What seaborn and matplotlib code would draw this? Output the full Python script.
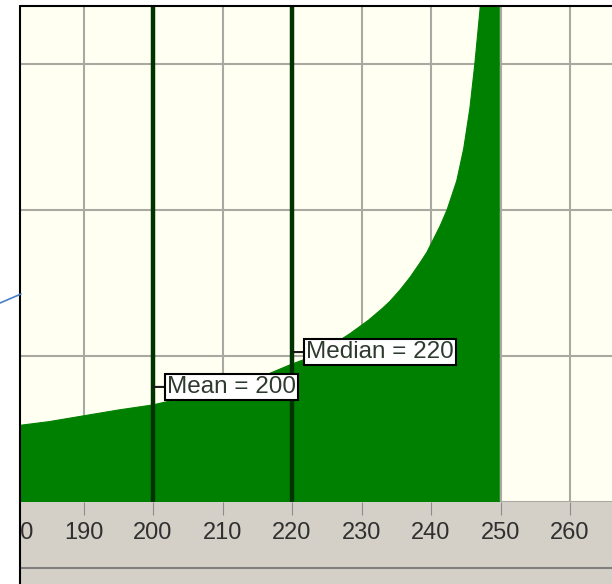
import matplotlib
matplotlib.use("Agg")
import matplotlib.pyplot as plt
import seaborn as sns
import pandas as pd
from matplotlib.patches import Rectangle
from matplotlib.lines import Line2D

# Density of the distribution (y measured in grid units)
values = [179, 180, 185, 190, 195, 200, 205, 210, 215, 217.5, 220, 222, 225, 228.4,
          231, 233.1, 234.1, 235.5, 237, 238.4, 239.4, 240.3, 241.3, 242.3,
          243.7, 244.7, 245.6, 246.3, 246.7, 247.3, 248, 249, 249.9]
density = [0.51, 0.52, 0.55, 0.59, 0.63, 0.665, 0.72, 0.78, 0.845, 0.895, 0.945, 0.98,
           1.05, 1.155, 1.245, 1.33, 1.375, 1.45, 1.54, 1.637, 1.71, 1.795,
           1.89, 2.0, 2.2, 2.42, 2.7, 3.0, 3.2, 3.5, 4.0, 5.0, 6.5]

mean_value = 200
median_value = 220
callout_heights = [0.788, 1.027]
x_ticks = [180, 190, 200, 210, 220, 230, 240, 250, 260]
y_grid = [0, 1, 2, 3]

df = pd.DataFrame({"value": values, "density": density})

sns.set_theme(style="white")
plt.rcParams["font.family"] = ["Liberation Sans", "DejaVu Sans"]

W, H = 612, 584
fig = plt.figure(figsize=(W / 100, H / 100), dpi=100, facecolor="white")


def fx(px):
    return px / W


def fy(py):
    return 1 - py / H


# grey strip holding the axis labels
fig.add_artist(Rectangle((fx(21), 0), 1, fy(502), transform=fig.transFigure,
                         facecolor="#D4D0C8", edgecolor="none", zorder=-1))

# plot area: 6.95 px per unit, starting a little left of the frame so the
# 180 tick still exists; the margin strip hides what lies left of the frame
px_per_unit = 6.95
left_px = 13
x_lo = 181.0 - (21 - left_px) / px_per_unit
x_hi = x_lo + (W - left_px) / px_per_unit
ax = fig.add_axes([fx(left_px), fy(502), (W - left_px) / W, 495 / H])
ax.set_facecolor("#FFFFF2")
ax.set_axisbelow(True)

sns.lineplot(data=df, x="value", y="density", color="#008000", lw=0.8, ax=ax)
ax.fill_between(df["value"], df["density"], color="#008000", lw=0, zorder=2)

ax.set_xticks(x_ticks)
ax.set_yticks(y_grid)
ax.set_xlim(x_lo, x_hi)
ax.set_ylim(0, 3.39)
ax.grid(True, color="#A9A9A2", lw=1.5)
ax.set_xlabel("")
ax.set_ylabel("")
for s in ax.spines.values():
    s.set_visible(False)
ax.tick_params(axis="x", bottom=True, length=9, width=0.8, color="#8C8C8C",
               labelsize=17, labelcolor="#303030", pad=5.5)
ax.tick_params(axis="y", left=False, labelleft=False)

# statistic markers
for v, h, name in [(mean_value, callout_heights[0], "Mean"),
                   (median_value, callout_heights[1], "Median")]:
    ax.axvline(v, color="#003300", lw=3.2, zorder=4)
    ax.annotate(f"{name} = {v}", xy=(v, h), xytext=(10, 0),
                textcoords="offset points", ha="left", va="center",
                fontsize=17.5, color="#2E3A2E", zorder=5,
                bbox=dict(boxstyle="square,pad=0.1", fc="white", ec="black", lw=1.5),
                arrowprops=dict(arrowstyle="-", color="#1A1A1A", lw=1.5,
                                shrinkA=0, shrinkB=0, relpos=(0, 0.5)))

# separator under the labels
fig.add_artist(Line2D([fx(21), 1], [fy(568), fy(568)], transform=fig.transFigure,
                      color="#7F7F7F", lw=1.5, zorder=6))
# margin left of the frame
fig.add_artist(Rectangle((0, 0), fx(20), 1, transform=fig.transFigure,
                         facecolor="white", edgecolor="none", zorder=7))
# frame edges
fig.add_artist(Line2D([fx(20), fx(20)], [0, fy(6)], transform=fig.transFigure,
                      color="black", lw=1.5, zorder=8))
fig.add_artist(Line2D([fx(20), 1], [fy(6), fy(6)], transform=fig.transFigure,
                      color="black", lw=1.5, zorder=8))
# connector entering from the left
fig.add_artist(Line2D([0, fx(21)], [fy(303), fy(294)], transform=fig.transFigure,
                      color="#4A7EC8", lw=1.2, zorder=8))

fig.savefig("out.png", dpi=100, facecolor="white")
